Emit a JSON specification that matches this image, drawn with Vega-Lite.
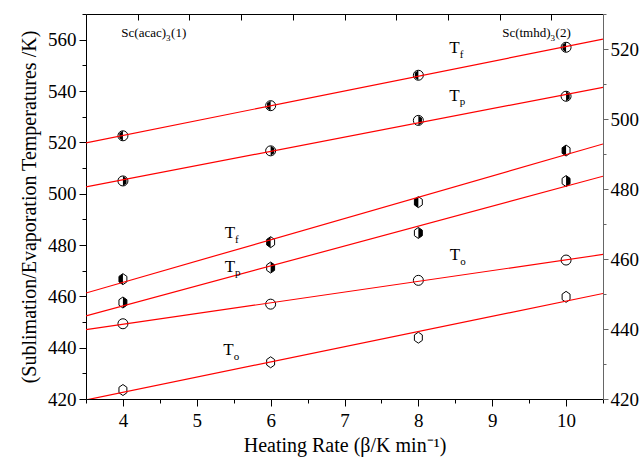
{
  "$schema": "https://vega.github.io/schema/vega-lite/v6.json",
  "width": 517,
  "height": 385,
  "autosize": {"type": "none"},
  "padding": {"left": 86, "top": 14, "right": 37, "bottom": 59},
  "config": {
    "font": "Liberation Serif",
    "view": {"stroke": null},
    "text": {"font": "Liberation Serif"},
    "axis": {
      "grid": false,
      "domainColor": "black",
      "tickColor": "black",
      "labelColor": "black",
      "titleColor": "black",
      "labelFont": "Liberation Serif",
      "titleFont": "Liberation Serif",
      "labelFontSize": 19,
      "titleFontSize": 20,
      "titleFontWeight": "normal",
      "domainWidth": 1,
      "tickWidth": 1
    }
  },
  "datasets": {
    "pts": [
      {"cpd": "acac", "series": "Tf", "rate": 4, "T": 466.7},
      {"cpd": "acac", "series": "Tf", "rate": 6, "T": 481.1},
      {"cpd": "acac", "series": "Tf", "rate": 8, "T": 496.7},
      {"cpd": "acac", "series": "Tf", "rate": 10, "T": 516.8},
      {"cpd": "acac", "series": "Tp", "rate": 4, "T": 457.6},
      {"cpd": "acac", "series": "Tp", "rate": 6, "T": 471.2},
      {"cpd": "acac", "series": "Tp", "rate": 8, "T": 484.7},
      {"cpd": "acac", "series": "Tp", "rate": 10, "T": 504.9},
      {"cpd": "acac", "series": "To", "rate": 4, "T": 423.5},
      {"cpd": "acac", "series": "To", "rate": 6, "T": 434.3},
      {"cpd": "acac", "series": "To", "rate": 8, "T": 443.9},
      {"cpd": "acac", "series": "To", "rate": 10, "T": 459.8},
      {"cpd": "tmhd", "series": "Tf", "rate": 4, "T": 495.2},
      {"cpd": "tmhd", "series": "Tf", "rate": 6, "T": 503.8},
      {"cpd": "tmhd", "series": "Tf", "rate": 8, "T": 512.5},
      {"cpd": "tmhd", "series": "Tf", "rate": 10, "T": 520.5},
      {"cpd": "tmhd", "series": "Tp", "rate": 4, "T": 482.3},
      {"cpd": "tmhd", "series": "Tp", "rate": 6, "T": 490.9},
      {"cpd": "tmhd", "series": "Tp", "rate": 8, "T": 499.6},
      {"cpd": "tmhd", "series": "Tp", "rate": 10, "T": 506.5},
      {"cpd": "tmhd", "series": "To", "rate": 4, "T": 441.5},
      {"cpd": "tmhd", "series": "To", "rate": 6, "T": 447.1},
      {"cpd": "tmhd", "series": "To", "rate": 8, "T": 453.9},
      {"cpd": "tmhd", "series": "To", "rate": 10, "T": 459.7}
    ],
    "notes": [
      {"cpd": "acac", "kind": "title", "main": "Sc(acac)", "sub": "3", "after": "(1)", "rate": 4.584, "T": 561.1},
      {"cpd": "tmhd", "kind": "title", "main": "Sc(tmhd)", "sub": "3", "after": "(2)", "rate": 9.79, "T": 523.5},
      {"cpd": "tmhd", "kind": "series", "main": "T", "sub": "f", "after": "", "rate": 8.559, "T": 518.8},
      {"cpd": "tmhd", "kind": "series", "main": "T", "sub": "p", "after": "", "rate": 8.559, "T": 505.2},
      {"cpd": "tmhd", "kind": "series", "main": "T", "sub": "o", "after": "", "rate": 8.566, "T": 459.7},
      {"cpd": "acac", "kind": "series", "main": "T", "sub": "f", "after": "", "rate": 5.518, "T": 482.6},
      {"cpd": "acac", "kind": "series", "main": "T", "sub": "p", "after": "", "rate": 5.518, "T": 469.6},
      {"cpd": "acac", "kind": "series", "main": "T", "sub": "o", "after": "", "rate": 5.5, "T": 437.1}
    ]
  },
  "resolve": {
    "scale": {"y": "independent", "size": "independent"},
    "axis": {"x": "independent", "y": "independent"}
  },
  "layer": [
    {
      "resolve": {
        "scale": {"size": "independent"},
        "axis": {"x": "independent", "y": "independent"}
      },
      "layer": [
        {
          "data": {"name": "pts"},
          "transform": [{"filter": "datum.cpd === 'acac'"}],
          "mark": {"type": "point", "opacity": 0},
          "encoding": {
            "x": {"field": "rate", "type": "quantitative", "scale": {"domain": [3.5, 10.5], "nice": false, "zero": false},
              "axis": {"orient": "bottom", "values": [3.5, 4.5, 5.5, 6.5, 7.5, 8.5, 9.5, 10.5], "tickSize": 4, "labels": false, "domain": false, "title": null}},
            "y": {"field": "T", "type": "quantitative", "scale": {"domain": [420, 570], "nice": false, "zero": false},
              "axis": {"orient": "left", "values": [430, 450, 470, 490, 510, 530, 550, 570], "tickSize": 4, "labels": false, "domain": false, "title": null}}
          }
        },
        {
          "data": {"name": "pts"},
          "transform": [{"filter": "datum.cpd === 'acac'"}],
          "mark": {"type": "point", "opacity": 0},
          "encoding": {
            "x": {"field": "rate", "type": "quantitative", "scale": {"domain": [3.5, 10.5], "nice": false, "zero": false},
              "axis": {"orient": "top", "values": [4.2, 4.9, 5.6, 6.3, 7, 7.7, 8.4, 9.1, 9.8], "tickSize": -6, "labels": false, "domain": true, "title": null}},
            "y": {"field": "T", "type": "quantitative", "scale": {"domain": [420, 570], "nice": false, "zero": false}, "axis": null}
          }
        },
        {
          "data": {"name": "pts"},
          "transform": [{"filter": "datum.cpd === 'acac'"}],
          "mark": {"type": "point", "filled": true, "fill": "white", "stroke": "black", "strokeWidth": 1, "opacity": 1, "size": 121,
            "shape": "M0,-1L0.72,-0.5L0.72,0.5L0,1L-0.72,0.5L-0.72,-0.5Z"},
          "encoding": {
            "x": {"field": "rate", "type": "quantitative", "scale": {"domain": [3.5, 10.5], "nice": false, "zero": false}, "axis": null},
            "y": {"field": "T", "type": "quantitative", "scale": {"domain": [420, 570], "nice": false, "zero": false}, "axis": null}
          }
        },
        {
          "data": {"name": "pts"},
          "transform": [{"filter": "datum.cpd === 'acac' && datum.series !== 'To'"}],
          "mark": {"type": "point", "filled": true, "fill": "black", "strokeWidth": 0, "opacity": 1, "size": 121},
          "encoding": {
            "x": {"field": "rate", "type": "quantitative", "scale": {"domain": [3.5, 10.5], "nice": false, "zero": false}, "axis": null},
            "y": {"field": "T", "type": "quantitative", "scale": {"domain": [420, 570], "nice": false, "zero": false}, "axis": null},
            "shape": {"field": "series", "type": "nominal", "legend": null,
              "scale": {"domain": ["Tf", "Tp"], "range": ["M0,-1L-0.72,-0.5L-0.72,0.5L0,1Z", "M0,-1L0.72,-0.5L0.72,0.5L0,1Z"]}}
          }
        },
        {
          "data": {"name": "pts"},
          "transform": [
            {"filter": "datum.cpd === 'acac'"},
            {"regression": "T", "on": "rate", "groupby": ["series"], "extent": [3.5, 10.5]}
          ],
          "mark": {"type": "line", "color": "#ff0000", "strokeWidth": 1.2, "clip": true},
          "encoding": {
            "x": {"field": "rate", "type": "quantitative", "scale": {"domain": [3.5, 10.5], "nice": false, "zero": false},
              "axis": {"orient": "bottom", "values": [4, 5, 6, 7, 8, 9, 10], "tickSize": 7, "labelPadding": 5, "title": "Heating Rate (β/K min⁻¹)", "titlePadding": 5}},
            "y": {"field": "T", "type": "quantitative", "scale": {"domain": [420, 570], "nice": false, "zero": false},
              "axis": {"orient": "left", "values": [420, 440, 460, 480, 500, 520, 540, 560], "tickSize": 7, "labelPadding": 3, "title": "(Sublimation/Evaporation Temperatures /K)", "titlePadding": 8}},
            "detail": {"field": "series", "type": "nominal"}
          }
        },
        {
          "data": {"name": "notes"},
          "transform": [{"filter": "datum.cpd === 'acac'"}],
          "mark": {"type": "text", "align": "right", "baseline": "alphabetic", "color": "black", "font": "Liberation Serif"},
          "encoding": {
            "x": {"field": "rate", "type": "quantitative", "scale": {"domain": [3.5, 10.5], "nice": false, "zero": false}, "axis": null},
            "y": {"field": "T", "type": "quantitative", "scale": {"domain": [420, 570], "nice": false, "zero": false}, "axis": null},
            "text": {"field": "main"},
            "size": {"field": "kind", "type": "nominal", "legend": null, "scale": {"domain": ["title", "series"], "range": [13, 17]}}
          }
        },
        {
          "data": {"name": "notes"},
          "transform": [{"filter": "datum.cpd === 'acac'"}],
          "mark": {"type": "text", "align": "left", "baseline": "alphabetic", "dy": 4.5, "color": "black", "font": "Liberation Serif"},
          "encoding": {
            "x": {"field": "rate", "type": "quantitative", "scale": {"domain": [3.5, 10.5], "nice": false, "zero": false}, "axis": null},
            "y": {"field": "T", "type": "quantitative", "scale": {"domain": [420, 570], "nice": false, "zero": false}, "axis": null},
            "text": {"field": "sub"},
            "size": {"field": "kind", "type": "nominal", "legend": null, "scale": {"domain": ["title", "series"], "range": [9, 11]}}
          }
        },
        {
          "data": {"name": "notes"},
          "transform": [{"filter": "datum.cpd === 'acac' && datum.kind === 'title'"}],
          "mark": {"type": "text", "align": "left", "baseline": "alphabetic", "dx": 5, "fontSize": 13, "color": "black", "font": "Liberation Serif"},
          "encoding": {
            "x": {"field": "rate", "type": "quantitative", "scale": {"domain": [3.5, 10.5], "nice": false, "zero": false}, "axis": null},
            "y": {"field": "T", "type": "quantitative", "scale": {"domain": [420, 570], "nice": false, "zero": false}, "axis": null},
            "text": {"field": "after"}
          }
        }
      ]
    },
    {
      "resolve": {
        "scale": {"size": "independent"},
        "axis": {"x": "independent", "y": "independent"}
      },
      "layer": [
        {
          "data": {"name": "pts"},
          "transform": [{"filter": "datum.cpd === 'tmhd'"}],
          "mark": {"type": "point", "opacity": 0},
          "encoding": {
            "x": {"field": "rate", "type": "quantitative", "scale": {"domain": [3.5, 10.5], "nice": false, "zero": false}, "axis": null},
            "y": {"field": "T", "type": "quantitative", "scale": {"domain": [420, 530], "nice": false, "zero": false},
              "axis": {"orient": "right", "values": [430, 450, 470, 490, 510, 530], "tickSize": 3, "labels": false, "domain": false, "title": null, "tickColor": "#666"}}
          }
        },
        {
          "data": {"name": "pts"},
          "transform": [{"filter": "datum.cpd === 'tmhd'"}],
          "mark": {"type": "point", "shape": "circle", "filled": true, "fill": "white", "stroke": "black", "strokeWidth": 1, "opacity": 1, "size": 100},
          "encoding": {
            "x": {"field": "rate", "type": "quantitative", "scale": {"domain": [3.5, 10.5], "nice": false, "zero": false}, "axis": null},
            "y": {"field": "T", "type": "quantitative", "scale": {"domain": [420, 530], "nice": false, "zero": false}, "axis": null}
          }
        },
        {
          "data": {"name": "pts"},
          "transform": [{"filter": "datum.cpd === 'tmhd' && datum.series !== 'To'"}],
          "mark": {"type": "point", "filled": true, "fill": "black", "strokeWidth": 0, "opacity": 1, "size": 100},
          "encoding": {
            "x": {"field": "rate", "type": "quantitative", "scale": {"domain": [3.5, 10.5], "nice": false, "zero": false}, "axis": null},
            "y": {"field": "T", "type": "quantitative", "scale": {"domain": [420, 530], "nice": false, "zero": false}, "axis": null},
            "shape": {"field": "series", "type": "nominal", "legend": null,
              "scale": {"domain": ["Tf", "Tp"], "range": ["M0,-1A1,1,0,0,0,0,1Z", "M0,-1A1,1,0,0,1,0,1Z"]}}
          }
        },
        {
          "data": {"name": "pts"},
          "transform": [
            {"filter": "datum.cpd === 'tmhd'"},
            {"regression": "T", "on": "rate", "groupby": ["series"], "extent": [3.5, 10.5]}
          ],
          "mark": {"type": "line", "color": "#ff0000", "strokeWidth": 1.2, "clip": true},
          "encoding": {
            "x": {"field": "rate", "type": "quantitative", "scale": {"domain": [3.5, 10.5], "nice": false, "zero": false}, "axis": null},
            "y": {"field": "T", "type": "quantitative", "scale": {"domain": [420, 530], "nice": false, "zero": false},
              "axis": {"orient": "right", "values": [420, 440, 460, 480, 500, 520], "tickSize": 5, "labelPadding": 2, "title": null, "domainColor": "#666", "tickColor": "#666"}},
            "detail": {"field": "series", "type": "nominal"}
          }
        },
        {
          "data": {"name": "notes"},
          "transform": [{"filter": "datum.cpd === 'tmhd'"}],
          "mark": {"type": "text", "align": "right", "baseline": "alphabetic", "color": "black", "font": "Liberation Serif"},
          "encoding": {
            "x": {"field": "rate", "type": "quantitative", "scale": {"domain": [3.5, 10.5], "nice": false, "zero": false}, "axis": null},
            "y": {"field": "T", "type": "quantitative", "scale": {"domain": [420, 530], "nice": false, "zero": false}, "axis": null},
            "text": {"field": "main"},
            "size": {"field": "kind", "type": "nominal", "legend": null, "scale": {"domain": ["title", "series"], "range": [13, 17]}}
          }
        },
        {
          "data": {"name": "notes"},
          "transform": [{"filter": "datum.cpd === 'tmhd'"}],
          "mark": {"type": "text", "align": "left", "baseline": "alphabetic", "dy": 4.5, "color": "black", "font": "Liberation Serif"},
          "encoding": {
            "x": {"field": "rate", "type": "quantitative", "scale": {"domain": [3.5, 10.5], "nice": false, "zero": false}, "axis": null},
            "y": {"field": "T", "type": "quantitative", "scale": {"domain": [420, 530], "nice": false, "zero": false}, "axis": null},
            "text": {"field": "sub"},
            "size": {"field": "kind", "type": "nominal", "legend": null, "scale": {"domain": ["title", "series"], "range": [9, 11]}}
          }
        },
        {
          "data": {"name": "notes"},
          "transform": [{"filter": "datum.cpd === 'tmhd' && datum.kind === 'title'"}],
          "mark": {"type": "text", "align": "left", "baseline": "alphabetic", "dx": 5, "fontSize": 13, "color": "black", "font": "Liberation Serif"},
          "encoding": {
            "x": {"field": "rate", "type": "quantitative", "scale": {"domain": [3.5, 10.5], "nice": false, "zero": false}, "axis": null},
            "y": {"field": "T", "type": "quantitative", "scale": {"domain": [420, 530], "nice": false, "zero": false}, "axis": null},
            "text": {"field": "after"}
          }
        }
      ]
    }
  ]
}
